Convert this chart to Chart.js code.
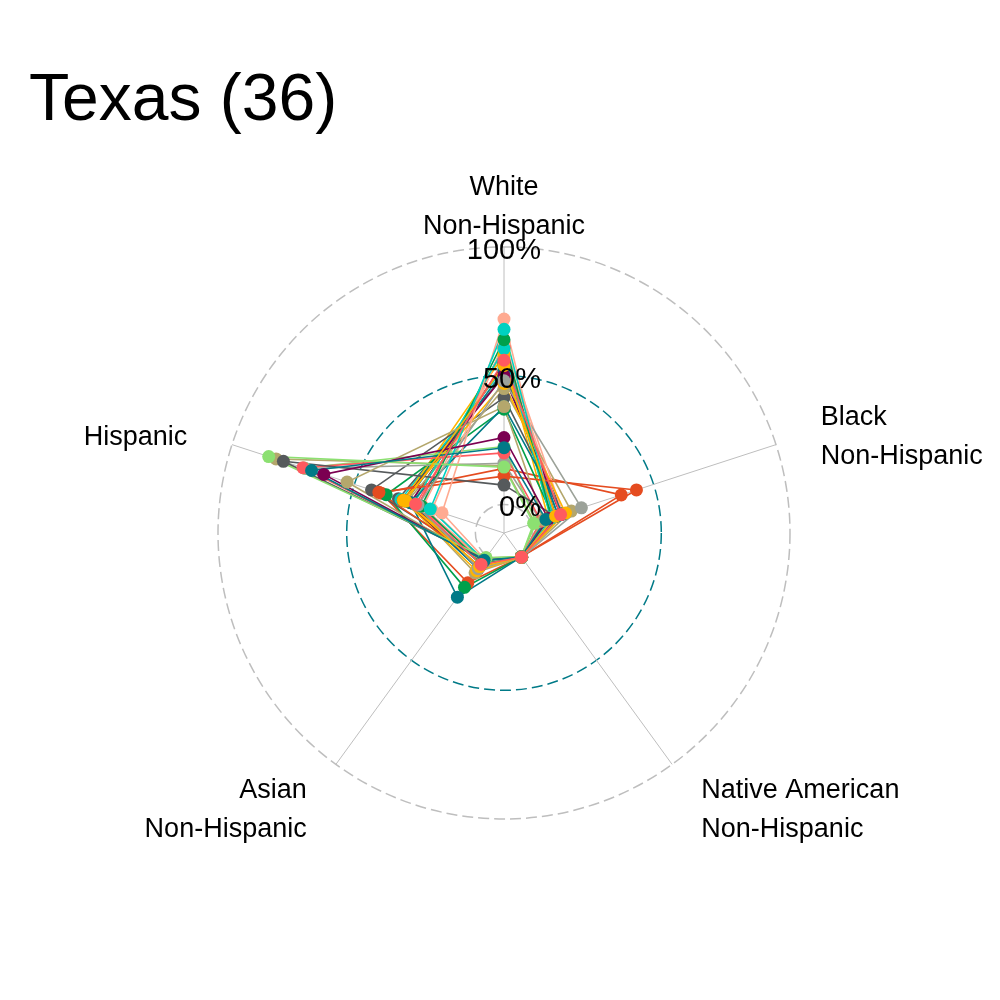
<!DOCTYPE html>
<html>
<head>
<meta charset="utf-8">
<script src="https://cdn.jsdelivr.net/npm/chart.js@4.4.0/dist/chart.umd.min.js"></script>
<style>
  html, body { margin: 0; padding: 0; background: #ffffff; }
  #wrap { width: 1000px; height: 1000px; position: relative; }
</style>
</head>
<body>
<div id="wrap"><canvas id="c"></canvas></div>
<script>
// ---- data (percent of district population) ----
const categories = [
  ["White", "Non-Hispanic"],
  ["Black", "Non-Hispanic"],
  ["Native American", "Non-Hispanic"],
  ["Asian", "Non-Hispanic"],
  ["Hispanic"]
];
const districts = ["TX-1","TX-2","TX-3","TX-4","TX-5","TX-6","TX-7","TX-8","TX-9","TX-10","TX-11","TX-12",
  "TX-13","TX-14","TX-15","TX-16","TX-17","TX-18","TX-19","TX-20","TX-21","TX-22","TX-23","TX-24",
  "TX-25","TX-26","TX-27","TX-28","TX-29","TX-30","TX-31","TX-32","TX-33","TX-34","TX-35","TX-36"];
const white    = [56, 54, 22, 14.5, 26, 68, 72, 38, 48, 7.5, 64, 11,
                  20, 47, 38, 22.5, 50, 60.5, 63, 45, 16, 41.5, 37, 14,
                  61, 58, 52, 60, 55, 53, 61, 15, 55, 50, 54, 61];
const black    = [12, 10, 6, 1, 7, 9, 9, 5, 20.5, 10, 8.3, 43,
                  4, 14, 13, 2, 12, 8, 13, 16.4, 4, 13, 9, 36.8,
                  9, 7, 11, 8, 10, 11, 12, 1.5, 12, 13, 10, 10];
const native   = [0.5, 0.5, 0.4, 0.3, 0.4, 0.6, 0.5, 0.4, 0.5, 0.3, 0.5, 0.3,
                  0.4, 0.5, 0.4, 0.3, 0.5, 0.6, 0.6, 0.5, 0.3, 0.5, 0.4, 0.3,
                  0.6, 0.6, 0.5, 0.5, 0.5, 0.5, 0.5, 0.3, 0.5, 0.5, 0.5, 0.4];
const asian    = [4, 5, 2, 0.8, 2, 2, 1.5, 2.5, 6, 1.5, 3.4, 3,
                  1.5, 7, 19.7, 1, 5, 4, 2, 8, 1.5, 2, 15, 12.8,
                  3, 3, 6, 4, 6, 3, 2.5, 0.8, 4, 3, 3, 2];
const hispanic = [25, 29, 67.5, 85, 62.5, 19, 14.2, 53, 24, 79, 22.6, 40,
                  71, 30, 27, 70.6, 30, 25.7, 18.3, 28.5, 70, 43, 37, 39,
                  24, 30, 29, 26, 27, 31, 22, 82, 27, 32, 30, 24];
const palette = ["#FF5A5F", "#FFB400", "#007A87", "#8CE071", "#7B0051", "#00D1C1",
                 "#FFAA91", "#B4A76C", "#9CA299", "#565A5C", "#00A04B", "#E54C20"];
const tickValues = [0, 50, 100];
const tickLabels = ["0%", "50%", "100%"];
const centreValue = -100 / 9;
const titleText = "Texas (36)";

// ---- build datasets ----
const FONT = '"Liberation Sans", Arial, Helvetica, sans-serif';
const lineSets = [];
const pointSets = [];
districts.forEach((d, i) => {
  const vals = [white[i], black[i], native[i], asian[i], hispanic[i]];
  const col = palette[i % palette.length];
  lineSets.push({
    label: d, data: vals, order: 1, fill: false,
    borderColor: col, borderWidth: 1.6, pointRadius: 0, pointHoverRadius: 0
  });
  pointSets.push({
    label: d + " pts", data: vals, order: 0, showLine: false, fill: false,
    borderColor: col, pointBackgroundColor: col, pointBorderColor: col,
    pointBorderWidth: 0, pointRadius: 6.5
  });
});

const textPlugin = {
  id: "radarText",
  afterDatasetsDraw(chart) {
    const s = chart.scales.r;
    const ctx = chart.ctx;
    ctx.save();
    ctx.fillStyle = "#000000";
    ctx.textBaseline = "alphabetic";
    ctx.font = "29px " + FONT;
    ctx.textAlign = "right";
    tickValues.forEach((v, k) => {
      const dist = s.getDistanceFromCenterForValue(v);
      ctx.fillText(tickLabels[k], s.xCenter + 37, s.yCenter - dist + 12);
    });
    ctx.font = "27px " + FONT;
    const labelDist = s.getDistanceFromCenterForValue(100) * 1.15;
    categories.forEach((lines, i) => {
      const p = s.getPointPosition(i, labelDist);
      const dy = (p.y - s.yCenter) / labelDist;
      let align = "center", dx = 0;
      if (p.x > s.xCenter + 5) { align = "left"; dx = 4; }
      else if (p.x < s.xCenter - 5) { align = "right"; dx = -4; }
      ctx.textAlign = align;
      const n = lines.length;
      lines.forEach((t, j) => {
        ctx.fillText(t, p.x + dx, p.y + 5.4 + 4.4 * dy + (j - (n - 1) / 2) * 39 + 9.5);
      });
    });
    ctx.restore();
  }
};

new Chart(document.getElementById("c"), {
  type: "radar",
  data: {
    labels: categories.map(c => c.join(" ")),
    datasets: lineSets.concat(pointSets)
  },
  options: {
    responsive: true,
    maintainAspectRatio: false,
    animation: false,
    layout: { padding: { left: 29, right: 21, top: 0, bottom: 180 } },
    elements: { line: { tension: 0 } },
    plugins: {
      legend: { display: false },
      tooltip: { enabled: false },
      title: {
        display: true, text: titleText, align: "start", color: "#000000",
        font: { size: 66, family: FONT, weight: "normal", lineHeight: 1.2 },
        padding: { top: 62, bottom: 105 }
      }
    },
    scales: {
      r: {
        min: centreValue,
        max: 100,
        startAngle: 0,
        ticks: { display: false },
        pointLabels: { display: false },
        afterBuildTicks: (scale) => {
          scale.ticks = [centreValue].concat(tickValues).map(v => ({ value: v }));
        },
        grid: {
          circular: true,
          lineWidth: 1.5,
          color: (ctx) => {
            const v = ctx.tick ? ctx.tick.value : null;
            if (v === 50) return "#007A87";
            if (v === 0 || v === 100) return "#BEBEBE";
            return "rgba(0,0,0,0)";
          }
        },
        border: { dash: [11, 5] },
        angleLines: { color: "#BEBEBE", lineWidth: 1 }
      }
    }
  },
  plugins: [textPlugin]
});
</script>
</body>
</html>
